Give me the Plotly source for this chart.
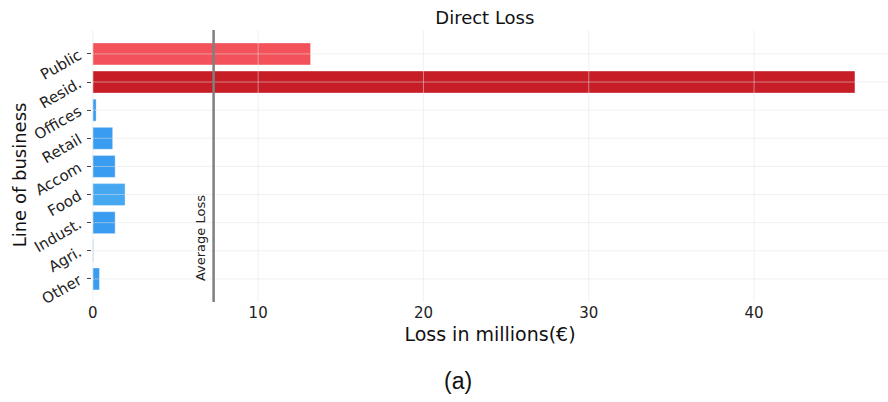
import plotly.graph_objects as go

# Direct loss per line of business, in millions of euros
categories = ["Public", "Resid.", "Offices", "Retail", "Accom", "Food", "Indust.", "Agri.", "Other"]
loss = [13.17, 46.1, 0.2, 1.2, 1.35, 1.95, 1.35, 0.03, 0.4]
bar_colors = ["#f4525a", "#c61d27", "#3a9cf0", "#3a9cf0", "#3a9cf0",
              "#47a8f2", "#3a9cf0", "#3a9cf0", "#3a9cf0"]
x_ticks = [0, 10, 20, 30, 40]

avg_loss = sum(loss) / len(loss)

fig = go.Figure()
fig.add_trace(go.Bar(
    x=loss, y=categories, orientation="h",
    marker=dict(color=bar_colors, line=dict(color="rgba(255,255,255,0.35)", width=1)),
    width=0.78,
))

# light grid drawn on top of the bars
grid_color = "rgba(228,228,228,0.5)"
for c in categories:
    fig.add_shape(type="line", xref="paper", yref="y", x0=0, x1=1, y0=c, y1=c,
                  line=dict(color=grid_color, width=1), layer="above")
for t in x_ticks:
    fig.add_shape(type="line", xref="x", yref="paper", x0=t, x1=t, y0=0, y1=1,
                  line=dict(color=grid_color, width=1), layer="above")

fig.add_shape(type="line", xref="x", yref="paper", x0=avg_loss, x1=avg_loss,
              y0=0, y1=1, line=dict(color="#7f7f7f", width=2.5), layer="above")
fig.add_annotation(x=avg_loss, xref="x", y=0.07, yref="paper", text="Average Loss",
                   textangle=-90, showarrow=False, xanchor="right", yanchor="bottom",
                   xshift=-3, font=dict(family="DejaVu Sans", size=13, color="#222"))
fig.add_annotation(x=-0.09, xref="paper", y=0.467, yref="paper", text="Line of business",
                   textangle=-90, showarrow=False, xanchor="center", yanchor="middle",
                   font=dict(family="DejaVu Sans", size=18, color="#111"))
fig.add_annotation(x=0.46, xref="paper", y=-0.345, yref="paper", text="(a)",
                   showarrow=False, font=dict(family="Liberation Sans", size=23, color="#111"))

fig.update_layout(
    width=888, height=402,
    margin=dict(l=92, r=0, t=30, b=100),
    paper_bgcolor="white", plot_bgcolor="white",
    showlegend=False,
    title=dict(text="Direct Loss", x=0.546, xanchor="center", y=0.955, yanchor="middle",
               font=dict(family="DejaVu Sans", size=18, color="#111")),
    font=dict(family="DejaVu Sans", color="#111"),
)
fig.update_xaxes(range=[-0.05, 48.1], tickvals=x_ticks,
                 showgrid=False, zeroline=False, showline=False, ticks="",
                 tickfont=dict(size=15, color="#222"),
                 title=dict(text="Loss in millions(€)", font=dict(size=19, color="#111"), standoff=6))
fig.update_yaxes(range=[8.82, -0.85], showgrid=False,
                 ticks="outside", ticklen=4, tickcolor="#444", tickangle=-30,
                 ticklabelstandoff=5,
                 tickfont=dict(size=15, color="#222"))

fig.write_html("out.html")
